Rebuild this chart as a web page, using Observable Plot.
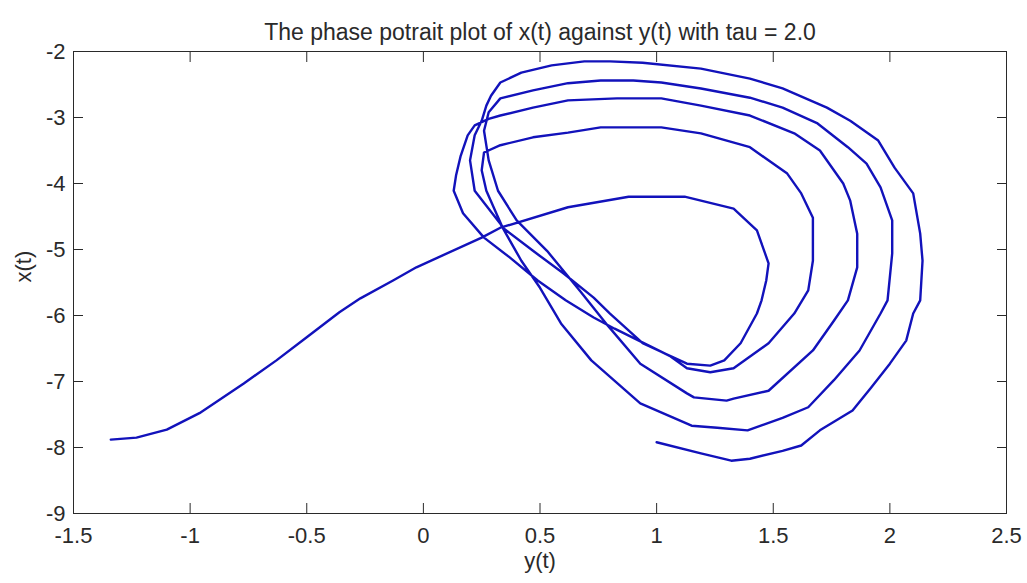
<!DOCTYPE html>
<html><head><meta charset="utf-8">
<script src="https://cdn.jsdelivr.net/npm/d3@7"></script>
<script src="https://cdn.jsdelivr.net/npm/@observablehq/plot@0.6"></script>
<style>html,body{margin:0;padding:0;background:#fff;overflow:hidden}</style>
</head><body><div id="chart"></div>
<script>
const title = "The phase potrait plot of x(t) against y(t) with tau = 2.0";
const xLabel = "y(t)";
const yLabel = "x(t)";
const xTicks = [-1.5, -1, -0.5, 0, 0.5, 1, 1.5, 2, 2.5];
const yTicks = [-9, -8, -7, -6, -5, -4, -3, -2];

// horizontal values y(t), in trajectory order
const yValues = [
  -1.34,-1.23,-1.10,-0.96,-0.77,-0.63,-0.50,-0.36,-0.27,-0.13,-0.03,0.25,0.33,0.62,0.88,1.12,1.33,1.43,1.48,1.47,1.45,1.43,1.36,1.29,1.23,
  1.13,0.94,0.80,0.73,0.60,0.47,0.34,0.27,0.25,0.26,
  0.33,0.47,0.62,0.76,1.02,1.19,1.40,1.56,1.62,1.67,1.67,1.65,1.59,1.48,1.33,1.23,
  1.13,1.06,0.82,0.73,0.61,0.49,0.37,0.26,0.17,0.13,0.14,0.16,0.19,0.22,0.28,
  0.33,0.47,0.62,0.83,1.02,1.19,1.40,1.59,1.70,1.80,1.83,1.86,1.86,1.82,1.76,1.67,1.48,1.33,1.30,
  1.16,1.13,0.93,0.79,0.67,0.53,0.40,0.32,0.28,0.26,0.28,
  0.33,0.47,0.62,0.76,0.90,1.02,1.19,1.40,1.54,1.69,1.82,1.90,1.96,2.01,2.01,1.99,1.96,1.87,1.76,1.65,1.54,1.39,1.26,1.15,
  0.93,0.72,0.59,0.50,0.42,0.33,0.22,0.20,0.22,0.25,0.27,0.29,
  0.33,0.42,0.55,0.69,0.80,0.94,1.19,1.40,1.54,1.73,1.83,1.95,2.02,2.10,2.13,2.14,2.13,2.10,2.07,2.00,1.92,1.84,1.70,1.62,1.54,1.40,1.32,1.19,1.00
];
// vertical values x(t), same order
const xValues = [
  -7.88,-7.85,-7.73,-7.48,-7.03,-6.68,-6.33,-5.95,-5.74,-5.47,-5.27,-4.82,-4.67,-4.36,-4.20,-4.20,-4.38,-4.71,-5.21,-5.47,-5.77,-5.97,-6.42,-6.68,-6.76,
  -6.73,-6.42,-5.97,-5.73,-5.36,-5.02,-4.67,-4.11,-3.80,-3.53,
  -3.42,-3.30,-3.23,-3.15,-3.15,-3.24,-3.45,-3.85,-4.15,-4.52,-5.17,-5.62,-5.97,-6.42,-6.80,-6.86,
  -6.80,-6.62,-6.20,-6.03,-5.77,-5.47,-5.12,-4.82,-4.45,-4.11,-3.88,-3.58,-3.27,-3.12,-3.02,
  -2.97,-2.85,-2.74,-2.71,-2.71,-2.82,-2.97,-3.24,-3.50,-4.00,-4.26,-4.76,-5.27,-5.77,-6.08,-6.53,-7.14,-7.26,-7.29,
  -7.24,-7.18,-6.73,-6.15,-5.62,-5.02,-4.56,-4.11,-3.65,-3.20,-2.92,
  -2.71,-2.59,-2.48,-2.44,-2.44,-2.47,-2.56,-2.70,-2.85,-3.09,-3.45,-3.70,-4.06,-4.56,-5.06,-5.77,-5.97,-6.53,-6.98,-7.39,-7.55,-7.74,-7.70,-7.67,
  -7.33,-6.68,-6.12,-5.58,-5.17,-4.61,-4.11,-3.65,-3.27,-3.05,-2.82,-2.67,
  -2.47,-2.32,-2.21,-2.15,-2.15,-2.17,-2.26,-2.41,-2.56,-2.85,-3.05,-3.35,-3.76,-4.15,-4.76,-5.17,-5.77,-5.97,-6.38,-6.73,-7.09,-7.44,-7.74,-7.97,-8.05,-8.17,-8.20,-8.09,-7.92
];

const points = yValues.map((v, i) => ({yt: v, xt: xValues[i]}));
const fmt = d => String(d);
const blank = () => "";
const font = 22;

const chart = Plot.plot({
  width: 1027,
  height: 583,
  marginLeft: 73,
  marginRight: 21,
  marginTop: 51,
  marginBottom: 70,
  style: {fontFamily: "'Liberation Sans', Arial, sans-serif", fontSize: "22px", color: "#2a2a2a", background: "#fff"},
  x: {domain: [-1.5, 2.5]},
  y: {domain: [-9, -2]},
  marks: [
    Plot.line(points, {x: "yt", y: "xt", stroke: "#1212bb", strokeWidth: 2.4, strokeLinejoin: "round"}),
    Plot.frame({stroke: "#2a2a2a"}),
    Plot.axisX(xTicks, {anchor: "bottom", tickSize: 0, tickPadding: 14, tickFormat: fmt, label: null, fontSize: font}),
    Plot.axisX(xTicks, {anchor: "bottom", tickSize: 10, dy: -10, tickFormat: blank, label: null}),
    Plot.axisX(xTicks, {anchor: "top", tickSize: 10, dy: 10, tickFormat: blank, label: null}),
    Plot.axisY(yTicks, {anchor: "left", tickSize: 0, tickPadding: 8, tickFormat: fmt, label: null, fontSize: font}),
    Plot.axisY(yTicks, {anchor: "left", tickSize: 10, dx: 10, tickFormat: blank, label: null}),
    Plot.axisY(yTicks, {anchor: "right", tickSize: 10, dx: -10, tickFormat: blank, label: null}),
    Plot.text([title], {text: d => d, frameAnchor: "top", dy: -28, fontSize: 23}),
    Plot.text([xLabel], {text: d => d, frameAnchor: "bottom", dy: 54, fontSize: font}),
    Plot.text([yLabel], {text: d => d, frameAnchor: "left", dx: -50, rotate: -90, fontSize: font})
  ]
});
document.getElementById("chart").appendChild(chart);
</script>
</body></html>
